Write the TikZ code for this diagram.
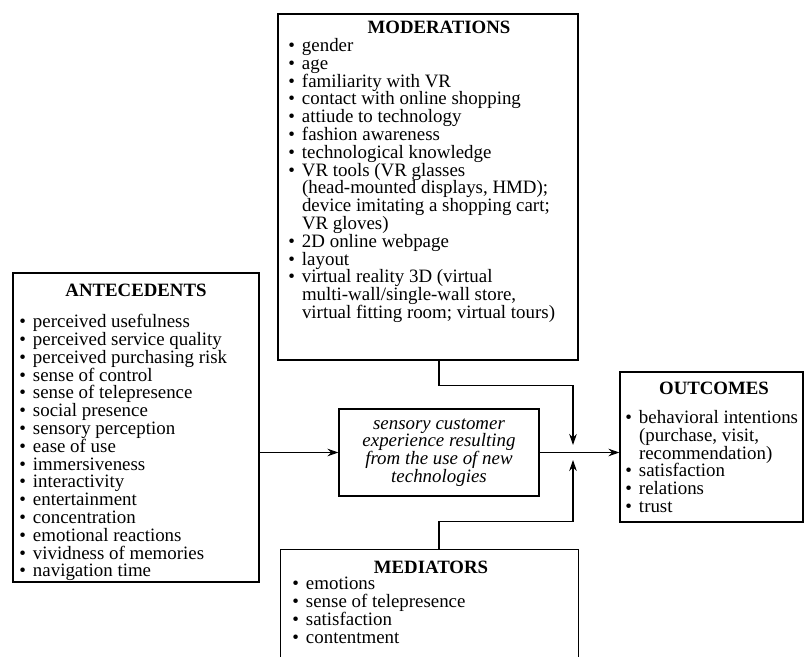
\documentclass[tikz,border=0pt]{standalone}
\usepackage{fontspec}
\setmainfont{Liberation Serif}
\usetikzlibrary{arrows.meta,fit}

\newcommand{\bul}{\makebox[0.72em][l]{\textbullet}}
\newcommand{\ind}{\hspace*{0.72em}}

\tikzset{
  boxframe/.style={draw, line width=0.6pt, inner sep=0pt},
  boxtitle/.style={font=\fontsize{9.4}{8.9}\selectfont\bfseries, inner sep=0pt},
  itemlist/.style={font=\fontsize{9.45}{8.9}\selectfont, align=left, anchor=north west, inner sep=0pt},
  arr/.style={line width=0.6pt, -{Stealth[length=5.5pt,width=3.8pt]}}
}

\begin{document}
\begin{tikzpicture}[x=0.5pt, y=-0.5pt]
\useasboundingbox (0,0) rectangle (808,657);

% Antecedents
\node[boxframe, fit={(13,273) (259,582)}] (ant) {};
\node[boxtitle] (antT) at (136,290) {ANTECEDENTS};
\node[itemlist] (antL) at (19,314) {\bul perceived usefulness\\ \bul perceived service quality\\
  \bul perceived purchasing risk\\ \bul sense of control\\ \bul sense of telepresence\\
  \bul social presence\\ \bul sensory perception\\ \bul ease of use\\ \bul immersiveness\\
  \bul interactivity\\ \bul entertainment\\ \bul concentration\\ \bul emotional reactions\\
  \bul vividness of memories\\ \bul navigation time};

% Moderations
\node[boxframe, fit={(278,14) (578,360)}] (mod) {};
\node[boxtitle] (modT) at (439,27) {MODERATIONS};
\node[itemlist] (modL) at (288,38) {\bul gender\\ \bul age\\ \bul familiarity with VR\\
  \bul contact with online shopping\\ \bul attiude to technology\\ \bul fashion awareness\\
  \bul technological knowledge\\ \bul VR tools (VR glasses\\ \ind(head-mounted displays, HMD);\\
  \ind device imitating a shopping cart;\\ \ind VR gloves)\\ \bul 2D online webpage\\ \bul layout\\
  \bul virtual reality 3D (virtual\\ \ind multi-wall/single-wall store,\\
  \ind virtual fitting room; virtual tours)};

% Central experience
\node[draw, line width=0.6pt, minimum width=100pt, minimum height=43.5pt, align=center,
  font=\fontsize{9.45}{8.9}\selectfont\itshape] (cen) at (439,452.5)
  {sensory customer\\ experience resulting\\ from the use of new\\ technologies};

% Outcomes
\node[boxframe, fit={(620,372) (803,522)}] (out) {};
\node[boxtitle] (outT) at (714,388) {OUTCOMES};
\node[itemlist] (outL) at (625,410) {\bul behavioral intentions\\ \ind(purchase, visit,\\
  \ind recommendation)\\ \bul satisfaction\\ \bul relations\\ \bul trust};

% Mediators (open at the bottom)
\node[inner sep=0pt, fit={(281,550) (578,657)}] (med) {};
\draw[line width=0.6pt] (med.south west) |- (med.north east) -- (med.south east);
\node[boxtitle] (medT) at (431,567) {MEDIATORS};
\node[itemlist] (medL) at (292,577) {\bul emotions\\ \bul sense of telepresence\\
  \bul satisfaction\\ \bul contentment};

% Connectors
\coordinate (jtop) at (573,445);
\coordinate (jbot) at (573,460);
\draw[arr] (cen.west -| ant.east) -- (cen.west);
\draw[arr] (cen.east) -- (cen.east -| out.west);
\draw[arr] (mod.south -| cen.north) -- ++(0,25) -| (jtop);
\draw[arr] (med.north -| cen.south) -- ++(0,-28) -| (jbot);

\end{tikzpicture}
\end{document}
